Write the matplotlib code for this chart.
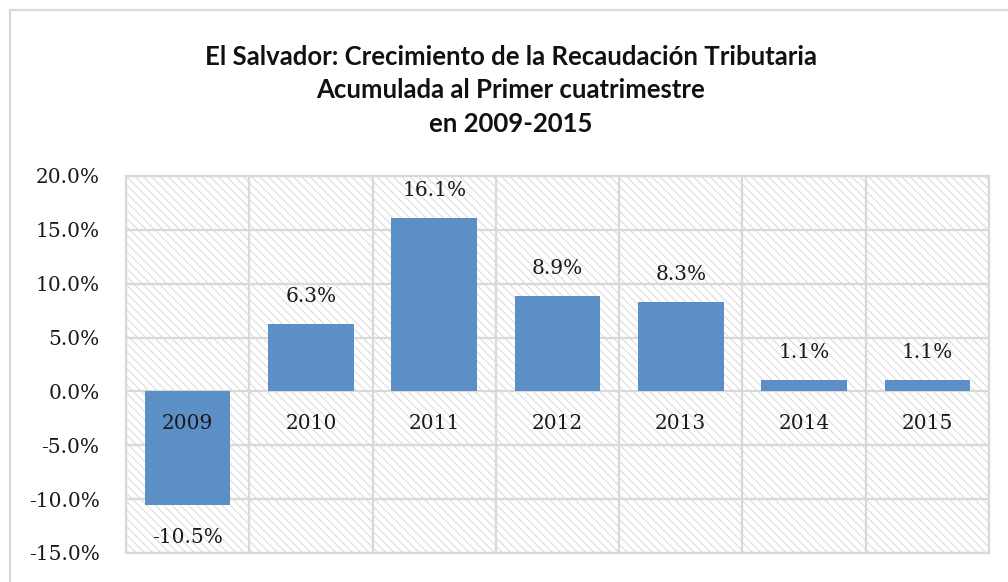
import matplotlib
matplotlib.use("Agg")
import matplotlib.pyplot as plt
from matplotlib.patches import Rectangle
from matplotlib.ticker import FixedLocator, FuncFormatter

years = ["2009", "2010", "2011", "2012", "2013", "2014", "2015"]
growth = [-10.5, 6.3, 16.1, 8.9, 8.3, 1.1, 1.1]
title_lines = [
    "El Salvador: Crecimiento de la Recaudación Tributaria",
    "Acumulada al Primer cuatrimestre",
    "en 2009-2015",
]

BAR_COLOR = "#5b8fc6"
GRID_COLOR = "#d9d9d9"
NUM_FONT = "DejaVu Serif"

plt.rcParams["hatch.linewidth"] = 0.8

fig = plt.figure(figsize=(10.08, 5.82), dpi=100)
ax = fig.add_axes([126 / 1008, 1 - 553 / 582, (989 - 126) / 1008, (553 - 176) / 582])

# hatched plot background
ax.patch.set_facecolor("white")
ax.patch.set_hatch("\\\\\\\\")
ax.patch.set_edgecolor("#dcdcdc")

x = range(len(years))
ax.bar(x, growth, width=0.695, color=BAR_COLOR, zorder=3)

ax.set_xlim(-0.5, len(years) - 0.5)
ax.set_ylim(-15, 20)
ax.yaxis.set_major_locator(FixedLocator([-15, -10, -5, 0, 5, 10, 15, 20]))
ax.yaxis.set_major_formatter(FuncFormatter(lambda v, p: f"{v:.1f}%"))
ax.xaxis.set_major_locator(FixedLocator([i + 0.5 for i in range(-1, len(years))]))
ax.set_xticklabels([])
ax.tick_params(axis="both", length=0)
ax.tick_params(axis="y", pad=19, labelsize=14.5)
for lab in ax.get_yticklabels():
    lab.set_fontfamily(NUM_FONT)
    lab.set_color("#1a1a1a")

ax.grid(True, color=GRID_COLOR, linewidth=1.6, zorder=1)
ax.set_axisbelow(True)
for sp in ax.spines.values():
    sp.set_color(GRID_COLOR)
    sp.set_linewidth(1.6)

# category labels just under the zero line
for i, yr in enumerate(years):
    ax.annotate(yr, (i, 0), xytext=(0, -23), textcoords="offset points",
                ha="center", va="center", fontsize=14.5, family=NUM_FONT,
                color="#1a1a1a", zorder=4)

# value labels
for i, v in enumerate(growth):
    off = 19.5 if v >= 0 else -24
    ax.annotate(f"{v:.1f}%", (i, v), xytext=(0, off), textcoords="offset points",
                ha="center", va="center", fontsize=14.5, family=NUM_FONT,
                color="#1a1a1a", zorder=4)

# title
for line, yp in zip(title_lines, [57, 90, 124]):
    fig.text(0.5 + 7 / 1008, 1 - yp / 582, line, ha="center", va="center",
             fontsize=18.5, fontweight="bold", family="Lato", color="#111111")

# outer chart frame (runs off the right and bottom edges)
fig.add_artist(Rectangle((10 / 1008, -0.1), 1.1, 1 - 10 / 582 + 0.1,
                         transform=fig.transFigure, fill=False,
                         edgecolor=GRID_COLOR, linewidth=1.6))

fig.savefig("out.png", dpi=100)
